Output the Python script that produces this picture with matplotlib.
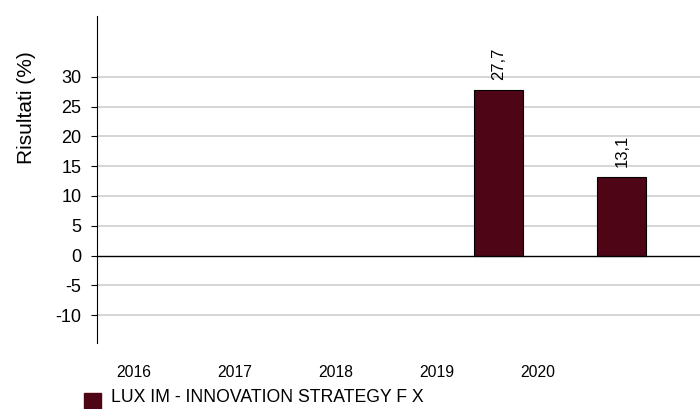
import matplotlib
matplotlib.use("Agg")
import matplotlib.pyplot as plt
from matplotlib.patches import Rectangle

years = ["2016", "2017", "2018", "2019", "2020"]
values = [None, None, None, 27.7, 13.1]
labels = ["", "", "", "27,7", "13,1"]
series_name = "LUX IM - INNOVATION STRATEGY F X"
yticks = [-10, -5, 0, 5, 10, 15, 20, 25, 30]

plt.rcParams['font.family'] = ['Liberation Sans', 'DejaVu Sans']
color = '#4E0616'

fig = plt.figure(figsize=(7.0, 4.09), dpi=100)
W, H = 700, 409
ax = fig.add_axes([97.3 / W, 1 - 342.5 / H, (700 - 97.3) / W, (342.5 - 16) / H])

xs = list(range(len(years)))
for x, v, lab in zip(xs, values, labels):
    if v is None:
        continue
    ax.bar(x, v, width=0.397, color=color, edgecolor='black', linewidth=0.8, zorder=3)
    ax.annotate(lab, (x, v), xytext=(0, 10), textcoords='offset pixels',
                rotation=90, ha='center', va='bottom', fontsize=12)

ax.set_xlim(-0.2486, 4.632)
ax.set_ylim(-14.6, 40.2)
ax.set_yticks(yticks)
ax.set_yticklabels([str(t) for t in yticks], fontsize=13)
for t in yticks:
    if t != 0:
        ax.axhline(t, color='#d2d2d2', linewidth=1.3, zorder=1)
ax.axhline(0, color='black', linewidth=1, zorder=4)

# category labels in the reference are spaced more tightly than the bars
label_start = (134 - 128) / 123.5
label_step = 101 / 123.5
ax.set_xticks([label_start + i * label_step for i in xs])
ax.set_xticklabels(years, fontsize=11.3)
ax.tick_params(axis='x', length=0, pad=16)
ax.tick_params(axis='y', length=4, width=0.8, pad=7.5)

for s in ['top', 'right', 'bottom']:
    ax.spines[s].set_visible(False)
ax.spines['left'].set_linewidth(0.8)

fig.text(27 / W, 1 - 108 / H, "Risultati (%)", rotation=90, ha='center', va='center',
         fontsize=15)

# legend: coloured square + series name
fig.patches.append(Rectangle((84 / W, 1 - 410 / H), 17 / W, 17 / H, facecolor=color,
                             edgecolor=color, transform=fig.transFigure, figure=fig))
fig.text(111 / W, 1 - 402 / H, series_name, va='baseline', ha='left', fontsize=12.7)

fig.savefig("out.png", dpi=100)
